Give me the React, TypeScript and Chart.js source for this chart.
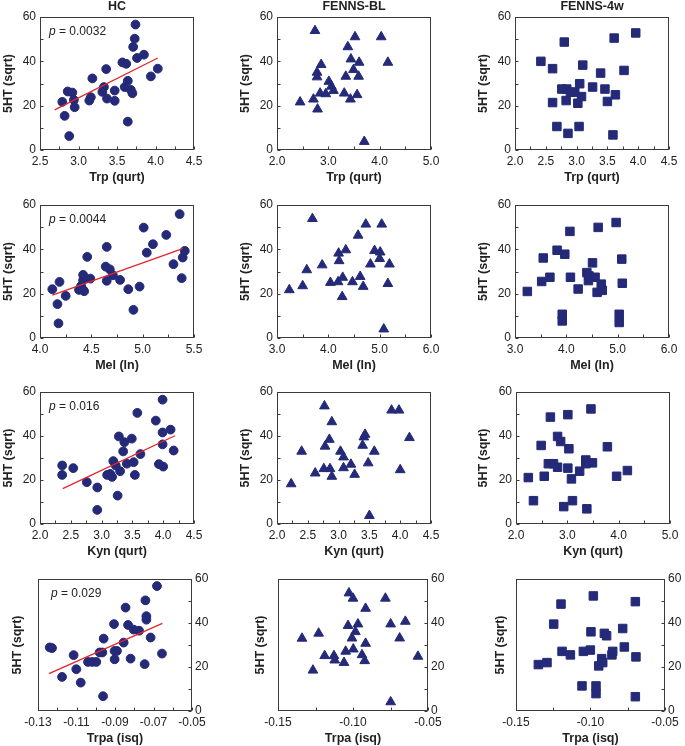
import React, { useEffect, useRef } from 'react';
import { Chart, registerables } from 'chart.js';
Chart.register(...registerables);

const FONT = "'Liberation Sans', Arial, Helvetica, sans-serif";
const MARK = '#242a78';
const FIT = '#e3262b';
const TEXT = '#222222';

// ---- tick labels ----
const Y_TICKS = [0, 20, 40, 60];
const TRP_HC_TICKS = [2.5, 3.0, 3.5, 4.0, 4.5];
const TRP_BL_TICKS = [2.0, 3.0, 4.0, 5.0];
const TRP_4W_TICKS = [2.0, 2.5, 3.0, 3.5, 4.0, 4.5];
const MEL_HC_TICKS = [4.0, 4.5, 5.0, 5.5];
const MEL_FN_TICKS = [3.0, 4.0, 5.0, 6.0];
const KYN_HC_TICKS = [2.0, 2.5, 3.0, 3.5, 4.0, 4.5];
const KYN_4W_TICKS = [2.0, 3.0, 4.0, 5.0];
const TRPA_HC_TICKS = [-0.13, -0.11, -0.09, -0.07, -0.05];
const TRPA_FN_TICKS = [-0.15, -0.10, -0.05];

// ---- Row 1: Trp ----
const HC_TRP_X = [2.79, 2.82, 2.86, 2.88, 2.92, 2.94, 2.95, 3.14, 3.16, 3.18, 3.31, 3.33, 3.36, 3.37, 3.47, 3.47, 3.57, 3.62, 3.60, 3.64, 3.64, 3.68, 3.70, 3.71, 3.73, 3.74, 3.76, 3.85, 3.94, 4.03];
const HC_TRP_Y = [21.7, 15.4, 26.4, 6.3, 25.9, 22.6, 19.3, 22.3, 23.8, 32.3, 26.2, 28.4, 36.5, 23.2, 26.8, 22.2, 39.5, 38.9, 28.4, 31.2, 12.8, 27.1, 25.6, 46.5, 50.2, 56.6, 41.5, 43.0, 33.2, 36.7];
const HC_TRP_FIT_X = [2.69, 4.03];
const HC_TRP_FIT_Y = [18.1, 41.5];

const BL_TRP_X = [2.74, 2.45, 2.71, 2.79, 2.78, 2.78, 2.86, 2.84, 2.95, 3.01, 3.06, 3.10, 3.31, 3.34, 3.38, 3.44, 3.43, 3.49, 3.52, 3.56, 3.59, 3.60, 3.70, 4.03, 4.16];
const BL_TRP_Y = [53.8, 21.6, 22.9, 18.4, 35.0, 32.9, 38.5, 25.6, 25.3, 30.9, 28.7, 26.8, 25.6, 33.2, 46.5, 41.0, 22.9, 36.2, 51.0, 24.9, 33.2, 39.5, 3.8, 51.0, 39.5];

const W4_TRP_X = [2.42, 2.61, 2.61, 2.68, 2.86, 3.04, 2.80, 2.76, 2.84, 2.83, 2.90, 2.97, 3.02, 3.05, 3.08, 3.10, 3.26, 3.39, 3.46, 3.50, 3.61, 3.63, 3.59, 3.77, 3.96];
const W4_TRP_Y = [40.0, 36.7, 21.4, 10.6, 7.5, 10.6, 48.7, 27.5, 27.5, 22.3, 26.1, 26.1, 21.1, 29.9, 24.1, 38.3, 28.4, 34.7, 27.5, 21.9, 50.5, 24.9, 6.8, 35.9, 52.8];

// ---- Row 2: Mel ----
const HC_MEL_X = [4.12, 4.17, 4.18, 4.19, 4.25, 4.38, 4.40, 4.42, 4.42, 4.43, 4.42, 4.46, 4.49, 4.65, 4.64, 4.65, 4.68, 4.71, 4.78, 4.86, 4.91, 4.97, 5.01, 5.04, 5.10, 5.23, 5.30, 5.36, 5.38, 5.39, 5.41];
const HC_MEL_Y = [22.0, 15.3, 6.6, 25.3, 19.0, 21.7, 23.5, 28.5, 21.7, 21.1, 26.1, 36.6, 26.8, 41.1, 32.2, 25.8, 31.0, 28.3, 26.2, 22.0, 12.7, 23.2, 49.8, 38.5, 42.3, 46.5, 33.3, 55.9, 27.0, 36.3, 39.3];
const HC_MEL_FIT_X = [4.12, 5.39];
const HC_MEL_FIT_Y = [19.3, 40.3];

const BL_MEL_X = [3.24, 3.50, 3.58, 3.69, 3.88, 4.04, 4.19, 4.20, 4.21, 4.28, 4.27, 4.34, 4.47, 4.58, 4.62, 4.68, 4.73, 4.82, 4.90, 5.01, 5.00, 5.04, 5.08, 5.16, 5.19];
const BL_MEL_Y = [21.7, 23.5, 30.7, 53.8, 32.9, 25.0, 25.3, 38.2, 34.8, 27.3, 18.6, 39.7, 25.3, 46.3, 27.7, 23.2, 51.3, 33.3, 39.4, 38.7, 35.8, 51.3, 4.0, 24.5, 33.3];

const W4_MEL_X = [3.24, 3.52, 3.55, 3.68, 3.82, 3.97, 3.92, 3.92, 4.07, 4.08, 4.23, 4.40, 4.43, 4.44, 4.51, 4.56, 4.60, 4.62, 4.68, 4.70, 4.97, 5.03, 5.03, 5.08, 5.09];
const W4_MEL_Y = [21.0, 25.5, 36.1, 27.4, 39.6, 37.8, 10.7, 7.7, 48.1, 27.4, 22.1, 29.5, 25.9, 28.0, 33.9, 27.4, 20.6, 49.9, 24.3, 21.5, 52.1, 10.7, 7.0, 35.6, 24.7];

// ---- Row 3: Kyn ----
const HC_KYN_X = [2.36, 2.36, 2.54, 2.76, 2.93, 2.93, 3.09, 3.14, 3.17, 3.19, 3.23, 3.26, 3.28, 3.30, 3.35, 3.37, 3.41, 3.49, 3.52, 3.54, 3.58, 3.63, 3.88, 3.93, 3.99, 3.99, 3.99, 4.00, 4.12, 4.17];
const HC_KYN_Y = [26.6, 22.3, 25.4, 19.0, 16.6, 6.4, 22.3, 22.8, 21.4, 28.6, 26.6, 12.9, 39.8, 24.0, 33.0, 37.2, 27.4, 38.8, 28.1, 22.3, 50.5, 31.8, 47.0, 27.2, 41.6, 56.5, 36.2, 26.1, 42.9, 33.4];
const HC_KYN_FIT_X = [2.37, 4.19];
const HC_KYN_FIT_Y = [16.1, 40.1];

const BL_KYN_X = [2.23, 2.40, 2.62, 2.76, 2.77, 2.78, 2.85, 2.86, 2.89, 2.89, 3.03, 3.08, 3.08, 3.20, 3.26, 3.39, 3.41, 3.43, 3.48, 3.50, 3.58, 3.86, 3.98, 4.00, 4.15];
const BL_KYN_Y = [18.2, 33.0, 23.1, 25.1, 53.6, 35.3, 38.4, 25.1, 21.6, 46.4, 33.0, 30.4, 25.5, 27.1, 22.5, 35.7, 39.5, 40.7, 27.7, 3.8, 33.0, 51.7, 51.7, 24.6, 39.2];

const W4_KYN_X = [2.24, 2.34, 2.49, 2.55, 2.63, 2.67, 2.73, 2.81, 2.81, 2.87, 2.93, 3.01, 3.01, 3.03, 3.08, 3.10, 3.24, 3.36, 3.36, 3.38, 3.46, 3.49, 3.78, 3.96, 4.17];
const W4_KYN_Y = [21.1, 10.6, 35.7, 21.7, 27.4, 48.6, 27.4, 39.8, 25.8, 37.5, 7.9, 49.7, 25.4, 34.2, 20.5, 10.6, 24.0, 29.1, 27.4, 6.9, 52.3, 27.8, 35.1, 21.7, 24.3];

// ---- Row 4: Trpa ----
const HC_TRPA_X = [-0.1239, -0.1227, -0.1175, -0.1115, -0.1101, -0.1078, -0.1040, -0.1018, -0.0997, -0.0980, -0.0966, -0.0959, -0.0962, -0.0905, -0.0902, -0.0890, -0.0902, -0.0855, -0.0845, -0.0832, -0.0819, -0.0803, -0.0775, -0.0746, -0.0742, -0.0737, -0.0737, -0.0715, -0.0682, -0.0656];
const HC_TRPA_Y = [28.9, 28.6, 15.5, 25.4, 19.0, 12.9, 22.3, 22.3, 22.3, 26.6, 26.6, 32.9, 6.7, 39.5, 27.3, 27.3, 23.5, 31.1, 47.0, 39.1, 23.8, 37.0, 36.5, 21.3, 50.3, 43.1, 41.5, 33.4, 56.8, 26.1];
const HC_TRPA_FIT_X = [-0.1243, -0.0654];
const HC_TRPA_FIT_Y = [17.0, 39.8];

const BL_TRPA_X = [-0.1340, -0.1267, -0.1229, -0.1189, -0.1127, -0.1122, -0.1060, -0.1049, -0.1033, -0.1027, -0.1000, -0.1007, -0.0998, -0.0984, -0.0967, -0.0940, -0.0922, -0.0916, -0.0916, -0.0784, -0.0749, -0.0749, -0.0689, -0.0651, -0.0567];
const BL_TRPA_Y = [33.0, 18.5, 35.3, 25.1, 25.1, 23.1, 22.0, 27.1, 38.8, 53.6, 51.2, 33.1, 28.1, 36.0, 39.5, 25.5, 22.8, 30.7, 46.6, 51.2, 39.5, 4.1, 33.1, 40.7, 24.8];

const W4_TRPA_X = [-0.1350, -0.1292, -0.1247, -0.1198, -0.1191, -0.1135, -0.1057, -0.1048, -0.1001, -0.0997, -0.0981, -0.0963, -0.0963, -0.0945, -0.0925, -0.0918, -0.0907, -0.0892, -0.0856, -0.0851, -0.0784, -0.0773, -0.0699, -0.0695, -0.0699];
const W4_TRPA_Y = [21.1, 22.0, 39.5, 48.6, 27.1, 25.5, 11.4, 27.1, 27.7, 36.0, 52.3, 11.4, 7.9, 20.5, 23.8, 22.0, 35.3, 34.2, 25.5, 27.1, 37.5, 29.1, 49.7, 24.6, 6.5];

const TITLES = ['HC', 'FENNS-BL', 'FENNS-4w'];
const X_TITLES = ['Trp (qurt)', 'Mel (ln)', 'Kyn (qurt)', 'Trpa (isq)'];
const Y_TITLE = '5HT (sqrt)';
const P_TEXTS = ['0.0032', '0.0044', '0.016', '0.029'];

// ---- layout (page pixel boxes of each plot frame) ----
const PANELS: any[] = [
  { box: [40, 17, 194, 150], yt: 9, title: TITLES[0], xt: X_TITLES[0], ticks: TRP_HC_TICKS, dec: 1, xs: HC_TRP_X, ys: HC_TRP_Y, shape: 'circle', fx: HC_TRP_FIT_X, fy: HC_TRP_FIT_Y, p: P_TEXTS[0] },
  { box: [277, 17, 431, 150], yt: 245.5, title: TITLES[1], xt: X_TITLES[0], ticks: TRP_BL_TICKS, dec: 1, xs: BL_TRP_X, ys: BL_TRP_Y, shape: 'triangle' },
  { box: [515, 17, 669, 150], yt: 483.5, title: TITLES[2], xt: X_TITLES[0], ticks: TRP_4W_TICKS, dec: 1, xs: W4_TRP_X, ys: W4_TRP_Y, shape: 'rect' },
  { box: [40, 205, 194, 338], yt: 9, xt: X_TITLES[1], ticks: MEL_HC_TICKS, dec: 1, xs: HC_MEL_X, ys: HC_MEL_Y, shape: 'circle', fx: HC_MEL_FIT_X, fy: HC_MEL_FIT_Y, p: P_TEXTS[1] },
  { box: [277, 205, 431, 338], yt: 245.5, xt: X_TITLES[1], ticks: MEL_FN_TICKS, dec: 1, xs: BL_MEL_X, ys: BL_MEL_Y, shape: 'triangle' },
  { box: [515, 205, 669, 338], yt: 483.5, xt: X_TITLES[1], ticks: MEL_FN_TICKS, dec: 1, xs: W4_MEL_X, ys: W4_MEL_Y, shape: 'rect' },
  { box: [40, 392, 194, 524], yt: 9, xt: X_TITLES[2], ticks: KYN_HC_TICKS, dec: 1, xs: HC_KYN_X, ys: HC_KYN_Y, shape: 'circle', fx: HC_KYN_FIT_X, fy: HC_KYN_FIT_Y, p: P_TEXTS[2] },
  { box: [277, 392, 431, 524], yt: 245.5, xt: X_TITLES[2], ticks: KYN_HC_TICKS, dec: 1, xs: BL_KYN_X, ys: BL_KYN_Y, shape: 'triangle' },
  { box: [516, 392, 670, 524], yt: 483.5, xt: X_TITLES[2], ticks: KYN_4W_TICKS, dec: 1, xs: W4_KYN_X, ys: W4_KYN_Y, shape: 'rect' },
  { box: [38, 579, 192, 711], yt: 17.5, right: true, xt: X_TITLES[3], ticks: TRPA_HC_TICKS, dec: 2, xs: HC_TRPA_X, ys: HC_TRPA_Y, shape: 'circle', fx: HC_TRPA_FIT_X, fy: HC_TRPA_FIT_Y, p: P_TEXTS[3] },
  { box: [278, 579, 428, 711], yt: 261, right: true, xt: X_TITLES[3], ticks: TRPA_FN_TICKS, dec: 2, xs: BL_TRPA_X, ys: BL_TRPA_Y, shape: 'triangle' },
  { box: [516, 579, 665, 711], yt: 501, right: true, xt: X_TITLES[3], ticks: TRPA_FN_TICKS, dec: 2, xs: W4_TRPA_X, ys: W4_TRPA_Y, shape: 'rect' },
];

const RADIUS: any = { circle: 4.4, triangle: 5.6, rect: 6.0 };

function midpoints(v: number[]) {
  const out: number[] = [...v];
  for (let i = 0; i < v.length - 1; i++) out.push((v[i] + v[i + 1]) / 2);
  return out;
}

const framePlugin = {
  id: 'frame',
  beforeDatasetsDraw(chart: any, _a: any, o: any) {
    const { ctx, chartArea: a } = chart;
    const xs = chart.scales.x, ys = chart.scales.y;
    ctx.save();
    ctx.strokeStyle = '#3a3a3a';
    ctx.lineWidth = 1;
    const L = Math.round(a.left) + 0.5, T = Math.round(a.top) + 0.5;
    const R = Math.round(a.right) - 0.5, B = Math.round(a.bottom) - 0.5;
    ctx.strokeRect(L, T, R - L, B - T);
    ctx.beginPath();
    for (const v of o.xMarks) {
      const px = Math.round(xs.getPixelForValue(v)) + 0.5;
      ctx.moveTo(px, B);
      ctx.lineTo(px, B - 3);
    }
    const yx = o.right ? R : L;
    const dir = o.right ? -1 : 1;
    for (const v of o.yMarks) {
      const py = Math.round(ys.getPixelForValue(v)) + 0.5;
      ctx.moveTo(yx, py);
      ctx.lineTo(yx + dir * 3, py);
    }
    ctx.stroke();
    ctx.restore();
  },
  afterDraw(chart: any, _a: any, o: any) {
    const { ctx, chartArea: a } = chart;
    ctx.save();
    ctx.fillStyle = TEXT;
    ctx.textBaseline = 'middle';
    if (o.title) {
      ctx.font = `bold 12.5px ${FONT}`;
      ctx.textAlign = 'center';
      ctx.fillText(o.title, (a.left + a.right) / 2, a.top - 10);
    }
    if (o.p) {
      const x0 = a.left + (o.right ? 13 : 9);
      const y0 = a.top + 15;
      ctx.textAlign = 'left';
      ctx.font = `italic 12px ${FONT}`;
      ctx.fillText('p', x0, y0);
      const w = ctx.measureText('p').width;
      ctx.font = `12px ${FONT}`;
      ctx.fillText(' = ' + o.p, x0 + w, y0);
    }
    ctx.restore();
  },
};

function Panel({ p }: { p: any }) {
  const ref = useRef<HTMLCanvasElement>(null);
  const [l, t, r, b] = p.box;
  const cx = l - 52, cy = t - 20;
  const cw = (r - l) + 52 + 42, ch = (b - t) + 20 + 46;

  useEffect(() => {
    const XH = 35.5;
    const padLeft = p.yt - 7.5 - cx;
    const leftW = l - cx - padLeft;
    const rightW = p.right ? 30 : 0;
    const padRight = cx + cw - r - rightW;
    const padTop = t - cy;
    const padBottom = cy + ch - b - XH;
    const zeroPad = (s: any) => { s.paddingTop = 0; s.paddingBottom = 0; s.paddingLeft = 0; s.paddingRight = 0; };
    const fixW = (w: number) => (s: any) => { s.width = w; zeroPad(s); };
    const fixH = (h: number) => (s: any) => { s.height = h; zeroPad(s); };
    const setTicks = (vals: number[]) => (s: any) => { s.ticks = vals.map((v) => ({ value: v })); };
    const tickFont = { size: 12, family: FONT };
    const titleFont = { size: 12.5, weight: 'bold' as const, family: FONT };

    const datasets: any[] = [];
    if (p.fx) {
      datasets.push({
        type: 'scatter',
        data: p.fx.map((x: number, i: number) => ({ x, y: p.fy[i] })),
        showLine: true,
        borderColor: FIT,
        borderWidth: 1.3,
        pointRadius: 0,
        yAxisID: 'y',
        clip: false,
      });
    }
    datasets.push({
      type: 'scatter',
      data: p.xs.map((x: number, i: number) => ({ x, y: p.ys[i] })),
      pointStyle: p.shape,
      pointRadius: RADIUS[p.shape],
      pointBackgroundColor: MARK,
      pointBorderColor: MARK,
      pointBorderWidth: 1,
      showLine: false,
      yAxisID: 'y',
      clip: false,
    });

    const scales: any = {
      x: {
        type: 'linear',
        min: p.ticks[0],
        max: p.ticks[p.ticks.length - 1],
        afterBuildTicks: setTicks(p.ticks),
        afterFit: fixH(XH),
        grid: { display: false, drawTicks: false },
        border: { display: false },
        ticks: {
          font: tickFont, color: TEXT, padding: 4.5, maxRotation: 0, autoSkip: false,
          callback: (v: any) => Number(v).toFixed(p.dec),
        },
        title: { display: true, text: p.xt, font: titleFont, color: TEXT, padding: 0 },
      },
      y: {
        type: 'linear',
        position: p.right ? 'right' : 'left',
        min: 0, max: 60,
        afterBuildTicks: setTicks(Y_TICKS),
        afterFit: fixW(p.right ? rightW : leftW),
        grid: { display: false, drawTicks: false },
        border: { display: false },
        ticks: { font: tickFont, color: TEXT, padding: p.right ? 3 : 4, callback: (v: any) => String(v) },
        title: { display: !p.right, text: Y_TITLE, font: titleFont, color: TEXT, padding: 0 },
      },
    };
    if (p.right) {
      scales.yL = {
        type: 'linear',
        position: 'left',
        min: 0, max: 60,
        afterFit: fixW(leftW),
        grid: { display: false, drawTicks: false },
        border: { display: false },
        ticks: { display: false },
        title: { display: true, text: Y_TITLE, font: titleFont, color: TEXT, padding: 0 },
      };
    }

    const chart = new Chart(ref.current as HTMLCanvasElement, {
      type: 'scatter',
      data: { datasets },
      options: {
        responsive: false,
        animation: false,
        events: [],
        layout: { autoPadding: false, padding: { left: padLeft, right: padRight, top: padTop, bottom: padBottom } },
        scales,
        plugins: {
          legend: { display: false },
          tooltip: { enabled: false },
          frame: {
            xMarks: midpoints(p.ticks),
            yMarks: [0, 10, 20, 30, 40, 50, 60],
            right: !!p.right,
            title: p.title,
            p: p.p,
          },
        } as any,
      },
      plugins: [framePlugin],
    } as any);
    return () => chart.destroy();
  }, []);

  return (
    <canvas
      ref={ref}
      width={cw}
      height={ch}
      style={{ position: 'absolute', left: cx, top: cy, width: cw, height: ch }}
    />
  );
}

export default function App() {
  Chart.defaults.font.family = FONT;
  return (
    <div style={{ position: 'absolute', left: 0, top: 0, width: 685, height: 746, background: '#fff', overflow: 'hidden' }}>
      {PANELS.map((p, i) => <Panel key={i} p={p} />)}
    </div>
  );
}
